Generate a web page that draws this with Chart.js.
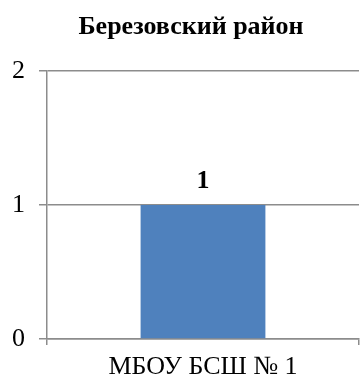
<!DOCTYPE html>
<html>
<head>
<meta charset="utf-8">
<script src="https://cdn.jsdelivr.net/npm/chart.js@4/dist/chart.umd.min.js"></script>
<style>
  html, body { margin: 0; padding: 0; background: #fff; }
  canvas { display: block; }
</style>
</head>
<body>
<canvas id="c" width="361" height="381"></canvas>
<script>
const chartTitle = 'Березовский район';
const categories = ['МБОУ БСШ № 1'];
const values = [1];
const yTicks = [0, 1, 2];

const SERIF = '"Liberation Serif", "Times New Roman", serif';
const GRID = '#8c8c8c';

// Heading above the plot, centred slightly right of the canvas middle
const heading = {
  id: 'heading',
  afterDraw(chart) {
    const ctx = chart.ctx;
    ctx.save();
    ctx.font = 'bold 26px ' + SERIF;
    ctx.fillStyle = '#000';
    ctx.textAlign = 'center';
    ctx.textBaseline = 'alphabetic';
    ctx.fillText(chartTitle, 191, 34);
    ctx.restore();
  }
};

// Writes each bar's value above it in bold
const valueLabels = {
  id: 'valueLabels',
  afterDatasetsDraw(chart) {
    const ctx = chart.ctx;
    const meta = chart.getDatasetMeta(0);
    ctx.save();
    ctx.font = 'bold 26px ' + SERIF;
    ctx.fillStyle = '#000';
    ctx.textAlign = 'center';
    ctx.textBaseline = 'alphabetic';
    meta.data.forEach((bar, i) => {
      ctx.fillText(String(values[i]), bar.x, bar.y - 17);
    });
    ctx.restore();
  }
};

new Chart(document.getElementById('c'), {
  type: 'bar',
  data: {
    labels: categories,
    datasets: [{
      data: values,
      backgroundColor: '#4f81bd',
      borderWidth: 0,
      barPercentage: 0.4,
      categoryPercentage: 1.0
    }]
  },
  options: {
    responsive: false,
    animation: false,
    devicePixelRatio: 1,
    layout: { padding: { left: 0, right: 2, top: 71, bottom: 0 } },
    plugins: {
      legend: { display: false },
      tooltip: { enabled: false },
      title: { display: false }
    },
    scales: {
      y: {
        min: 0,
        max: 2,
        afterBuildTicks(axis) { axis.ticks = yTicks.map(v => ({ value: v })); },
        afterFit(axis) { axis.width = 47; },
        ticks: {
          color: '#000',
          padding: 14,
          font: { family: SERIF, size: 26 }
        },
        grid: { color: GRID, lineWidth: 1.5, tickLength: 8, drawTicks: true },
        border: { display: true, color: GRID, width: 1.5 }
      },
      x: {
        afterFit(axis) { axis.height = 42; },
        ticks: {
          color: '#000',
          padding: 7,
          font: { family: SERIF, size: 26 }
        },
        grid: { display: true, drawOnChartArea: false, drawTicks: true, tickLength: 6, color: GRID, lineWidth: 1.5, offset: true },
        border: { display: true, color: GRID, width: 1.5 }
      }
    }
  },
  plugins: [heading, valueLabels]
});
</script>
</body>
</html>
